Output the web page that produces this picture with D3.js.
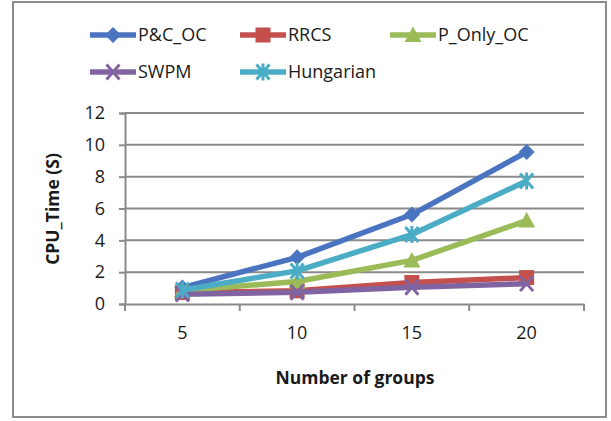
<!DOCTYPE html>
<meta charset="utf-8">
<title>CPU time vs number of groups</title>
<script src="https://d3js.org/d3.v7.min.js"></script>
<style>
  body { margin: 0; background: #fff; }
  text { font-family: "Open Sans", sans-serif; fill: #1a1a1a; }
</style>
<div id="my_dataviz"></div>
<script>

// data
var groups = [5, 10, 15, 20];
var seriesNames = ["P&C_OC", "RRCS", "P_Only_OC", "SWPM", "Hungarian"];
var pcOC      = [1.03, 2.93, 5.62, 9.55];
var rrcs      = [0.72, 0.83, 1.35, 1.66];
var pOnlyOC   = [0.85, 1.41, 2.74, 5.24];
var swpm      = [0.62, 0.74, 1.05, 1.28];
var hungarian = [0.88, 2.08, 4.36, 7.73];
var yTicks = [0, 2, 4, 6, 8, 10, 12];

var colors = ["#4a74c0", "#c4504d", "#9bbb59", "#8064a2", "#4bacc6"];
var markers = ["diamond", "square", "triangle", "cross", "star"];
var values = [pcOC, rrcs, pOnlyOC, swpm, hungarian];

var W = 611, H = 421;
var svg = d3.select("#my_dataviz").append("svg")
  .attr("width", W).attr("height", H);

// chart border
svg.append("rect")
  .attr("x", 13).attr("y", 2).attr("width", 593).attr("height", 415)
  .attr("fill", "#fff").attr("stroke", "#8c8c8c").attr("stroke-width", 2);

var x = d3.scaleBand().domain(groups).range([125, 584]);
var y = d3.scaleLinear().domain([0, 12]).range([304, 113]);

// gridlines
svg.append("g").selectAll("line")
  .data(yTicks.slice(1))
  .enter().append("line")
    .attr("x1", 125).attr("x2", 584)
    .attr("y1", function(d) { return y(d); })
    .attr("y2", function(d) { return y(d); })
    .attr("stroke", "#8a8a8a").attr("stroke-width", 2);

// y axis
var yAxis = svg.append("g")
  .attr("transform", "translate(125,0)")
  .call(d3.axisLeft(y).tickValues(yTicks).tickSize(6).tickPadding(14));
yAxis.select(".domain").attr("stroke", "#8a8a8a").attr("stroke-width", 2);
yAxis.selectAll(".tick line").attr("stroke", "#8a8a8a").attr("stroke-width", 2);
yAxis.selectAll(".tick text")
  .attr("font-size", "18px").attr("fill", "#1a1a1a")
  .style("font-family", "'Open Sans', sans-serif");

// x axis
var xAxis = svg.append("g")
  .attr("transform", "translate(0,304)")
  .call(d3.axisBottom(x).tickSize(0).tickPadding(22));
xAxis.select(".domain").attr("stroke", "#8a8a8a").attr("stroke-width", 2);
xAxis.selectAll(".tick text")
  .attr("font-size", "18px").attr("fill", "#1a1a1a")
  .style("font-family", "'Open Sans', sans-serif");
// tick marks between categories
xAxis.selectAll(".sep")
  .data(groups.concat(["end"]))
  .enter().append("line")
    .attr("class", "sep")
    .attr("x1", function(d, i) { return i < groups.length ? x(d) : x.range()[1]; })
    .attr("x2", function(d, i) { return i < groups.length ? x(d) : x.range()[1]; })
    .attr("y1", 0).attr("y2", 7)
    .attr("stroke", "#8a8a8a").attr("stroke-width", 2);

// axis titles
svg.append("text")
  .attr("x", 355).attr("y", 384)
  .attr("text-anchor", "middle")
  .attr("font-size", "17.5px").attr("font-weight", "bold")
  .text("Number of groups");

svg.append("text")
  .attr("transform", "translate(59,209) rotate(-90)")
  .attr("text-anchor", "middle")
  .attr("font-size", "17.5px").attr("font-weight", "bold")
  .text("CPU_Time (S)");

// marker drawing
function drawMarker(g, type, color) {
  if (type === "diamond") {
    g.append("path").attr("d", "M0,-8L8,0L0,8L-8,0Z").attr("fill", color);
  } else if (type === "square") {
    g.append("rect").attr("x", -7.5).attr("y", -7.5).attr("width", 15).attr("height", 15).attr("fill", color);
  } else if (type === "triangle") {
    g.append("path").attr("d", "M0,-8.5L8.5,7L-8.5,7Z").attr("fill", color);
  } else if (type === "cross") {
    g.append("path").attr("d", "M-6.5,-7.5L6.5,7.5M-6.5,7.5L6.5,-7.5")
      .attr("stroke", color).attr("stroke-width", 3).attr("fill", "none");
  } else if (type === "star") {
    g.append("path").attr("d", "M-6.5,-7.5L6.5,7.5M-6.5,7.5L6.5,-7.5M0,-8.5L0,8.5")
      .attr("stroke", color).attr("stroke-width", 3).attr("fill", "none");
  }
}

var line = d3.line()
  .x(function(d, i) { return x(groups[i]) + x.bandwidth() / 2; })
  .y(function(d) { return y(d); });

values.forEach(function(vals, s) {
  svg.append("path")
    .datum(vals)
    .attr("d", line)
    .attr("fill", "none")
    .attr("stroke", colors[s])
    .attr("stroke-width", 5.5)
    .attr("stroke-linejoin", "round");
  vals.forEach(function(v, i) {
    var g = svg.append("g")
      .attr("transform", "translate(" + (x(groups[i]) + x.bandwidth() / 2) + "," + y(v) + ")");
    drawMarker(g, markers[s], colors[s]);
  });
});

// legend
var legendPos = [[90, 35], [240, 35], [390, 35], [90, 72], [240, 72]];
seriesNames.forEach(function(name, s) {
  var lg = svg.append("g")
    .attr("transform", "translate(" + legendPos[s][0] + "," + legendPos[s][1] + ")");
  lg.append("line")
    .attr("x1", 0).attr("x2", 46)
    .attr("stroke", colors[s]).attr("stroke-width", 5.5);
  var m = lg.append("g").attr("transform", "translate(23,0)");
  drawMarker(m, markers[s], colors[s]);
  lg.append("text")
    .attr("x", 48).attr("dy", "0.35em")
    .attr("font-size", "18px")
    .text(name);
});

</script>
